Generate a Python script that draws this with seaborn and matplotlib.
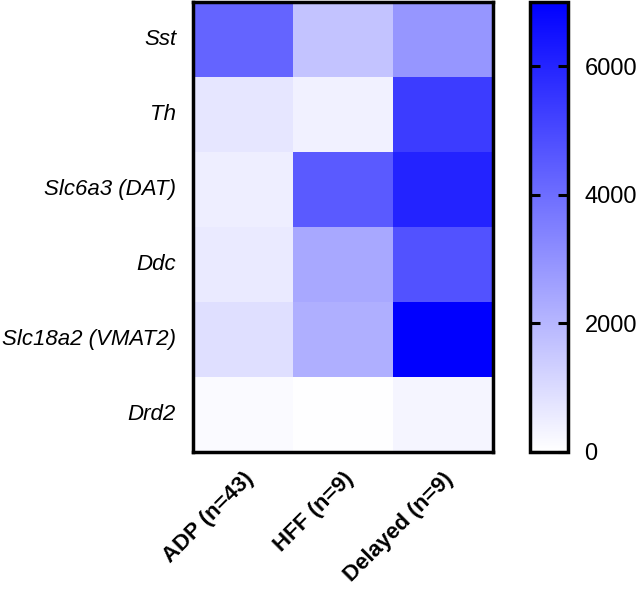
import numpy as np
import seaborn as sns
import matplotlib.pyplot as plt
from matplotlib.colors import LinearSegmentedColormap

genes = ['Sst', 'Th', 'Slc6a3 (DAT)', 'Ddc', 'Slc18a2 (VMAT2)', 'Drd2']
groups = ['ADP (n=43)', 'HFF (n=9)', 'Delayed (n=9)']

adp = [4260, 690, 470, 580, 900, 140]
hff = [1650, 410, 4530, 2390, 2200, 30]
delayed = [2880, 5350, 6040, 4750, 7000, 300]

data = np.array([adp, hff, delayed]).T

plt.rcParams['font.family'] = ['Liberation Sans', 'DejaVu Sans']

cmap = LinearSegmentedColormap.from_list('wb', ['#ffffff', '#0000ff'])

fig = plt.figure(figsize=(6.36, 5.89), dpi=100)
ax = fig.add_axes([0.303, 0.233, 0.472, 0.764])
cax = fig.add_axes([0.833, 0.233, 0.060, 0.764])

sns.heatmap(data, ax=ax, cbar_ax=cax, cmap=cmap, vmin=0, vmax=7000,
            xticklabels=groups, yticklabels=genes)

for s in ax.spines.values():
    s.set_visible(True)
    s.set_linewidth(2.5)
    s.set_color('black')

ax.tick_params(axis='both', length=0, pad=12)
ax.set_yticklabels(genes, rotation=0, fontsize=16, style='italic')
ax.set_xticklabels(groups, rotation=45, ha='right', rotation_mode='anchor',
                   fontsize=16, fontweight='bold')

cbar = ax.collections[0].colorbar
cbar.set_ticks([0, 2000, 4000, 6000])
cbar.outline.set_visible(True)
cbar.outline.set_linewidth(2.5)
cbar.outline.set_edgecolor('black')

# ticks on both sides of the colour bar, pointing in, drawn above the gradient
cax.set_axisbelow(False)
cax.yaxis.set_ticks_position('both')
cax.tick_params(which='major', direction='in', length=7, width=2.2,
                color='black', left=True, right=True,
                labelleft=False, labelright=True, labelsize=17, pad=12)

fig.savefig('out.png', dpi=100)
